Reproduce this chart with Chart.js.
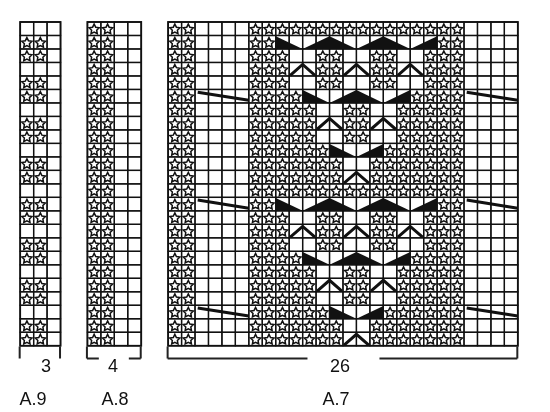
<!DOCTYPE html>
<html><head><meta charset="utf-8">
<script src="https://cdn.jsdelivr.net/npm/chart.js@4"></script>
<style>html,body{margin:0;padding:0;background:#fff}</style>
</head><body>
<canvas id="c" width="550" height="412"></canvas>
<script>
// ---- data ----
const chartNames = ["A.9", "A.8", "A.7"];
const widthLabels = ["3", "4", "26"];
const a9Rows = ["...","SS.","SS.","...","SS.","SS.","...","SS.","SS.","...","SS.","SS.","...","SS.","SS.","...","SS.","SS.","...","SS.","SS.","...","SS.","SS."];
const a8Rows = Array.from({length:24}, () => "SS..");
const a7Motif = [
 "SSSSSSSSSSSSSSSS","SS............SS","SSS..SS..SS..SSS","SSS..SS..SS..SSS","SSS..SS..SS..SSS",
 "SSSS........SSSS","SSSSS..SS..SSSSS","SSSSS..SS..SSSSS","SSSSS..SS..SSSSS","SSSSSS....SSSSSS",
 "SSSSSSS..SSSSSSS","SSSSSSS..SSSSSSS","SSSSSSSSSSSSSSSS",
 "SS............SS","SSS..SS..SS..SSS","SSS..SS..SS..SSS","SSS..SS..SS..SSS",
 "SSSS........SSSS","SSSSS..SS..SSSSS","SSSSS..SS..SSSSS","SSSSS..SS..SSSSS","SSSSSS....SSSSSS",
 "SSSSSSS..SSSSSSS","SSSSSSS..SSSSSSS"];
const a7Rows = a7Motif.map(m => "SS...." + m + "....");
// decrease wedges: [row, motifCol, type]  L=◣ A=▲ R=◢
const wedges = [
 [1,2,"L"],[1,4,"A"],[1,8,"A"],[1,12,"R"],
 [5,4,"L"],[5,6,"A"],[5,10,"R"],
 [9,6,"L"],[9,8,"R"],
 [13,2,"L"],[13,4,"A"],[13,8,"A"],[13,12,"R"],
 [17,4,"L"],[17,6,"A"],[17,10,"R"],
 [21,6,"L"],[21,8,"R"]];
// chevrons: [row, motifCol]
const chevrons = [[3,3],[3,7],[3,11],[7,5],[7,9],[11,7],[15,3],[15,7],[15,11],[19,5],[19,9],[23,7]];
// slanted cable lines: [row, startCol]
const slashes = [[5,2],[5,22],[13,2],[13,22],[21,2],[21,22]];

const charts = [
 {rows:a9Rows, x0:1.5, cols:3},
 {rows:a8Rows, x0:6.5, cols:4},
 {rows:a7Rows, x0:12.5, cols:26}];

const drawPlugin = {
 id:'knit',
 afterDraw(chart){
  const ctx = chart.ctx, xs = chart.scales.x, ys = chart.scales.y;
  const X = v => xs.getPixelForValue(v), Y = v => ys.getPixelForValue(v);
  ctx.save();
  function star(cx, cy, r){
   ctx.beginPath();
   for(let i=0;i<10;i++){
    const rr = i%2===0 ? r : r*0.5;
    const a = -Math.PI/2 + i*Math.PI/5;
    const px = cx + rr*Math.cos(a), py = cy + rr*Math.sin(a);
    i===0 ? ctx.moveTo(px,py) : ctx.lineTo(px,py);
   }
   ctx.closePath(); ctx.stroke();
  }
  charts.forEach(c => {
   c.rows.forEach((row, r) => {
    for(let k=0;k<c.cols;k++){
     const x1=X(c.x0+k), x2=X(c.x0+k+1), y1=Y(r), y2=Y(r+1);
     ctx.strokeStyle = '#111'; ctx.lineWidth = 1.3;
     ctx.strokeRect(x1,y1,x2-x1,y2-y1);
     if(row[k]==='S'){ ctx.lineWidth=1.5; star((x1+x2)/2,(y1+y2)/2+0.6,5.3); }
    }
   });
   ctx.lineWidth=1.8;
   ctx.strokeRect(X(c.x0),Y(0),X(c.x0+c.cols)-X(c.x0),Y(24)-Y(0));
  });
  const m0 = 12.5 + 6;
  ctx.fillStyle = '#111';
  wedges.forEach(([r,a,t]) => {
   const top=Y(r+0.05), bot=Y(r+1);
   ctx.beginPath();
   if(t==='L'){ ctx.moveTo(X(m0+a),top); ctx.lineTo(X(m0+a),bot); ctx.lineTo(X(m0+a+2),bot); }
   else if(t==='R'){ ctx.moveTo(X(m0+a),bot); ctx.lineTo(X(m0+a+2),top); ctx.lineTo(X(m0+a+2),bot); }
   else { ctx.moveTo(X(m0+a),bot); ctx.lineTo(X(m0+a+2),top); ctx.lineTo(X(m0+a+4),bot); }
   ctx.closePath(); ctx.fill();
  });
  ctx.strokeStyle='#111'; ctx.lineWidth=3; ctx.lineCap='butt';
  chevrons.forEach(([r,a]) => {
   ctx.beginPath();
   ctx.moveTo(X(m0+a+0.08),Y(r+0.95)); ctx.lineTo(X(m0+a+1),Y(r+0.15)); ctx.lineTo(X(m0+a+1.92),Y(r+0.95));
   ctx.stroke();
  });
  slashes.forEach(([r,a]) => {
   ctx.beginPath();
   ctx.moveTo(X(12.5+a+0.2),Y(r+0.2)); ctx.lineTo(X(12.5+a+4),Y(r+0.8)); ctx.stroke();
  });
  // brackets
  ctx.lineWidth=2; ctx.strokeStyle='#222';
  const by1=Y(24.05), by2=Y(24.95);
  charts.forEach((c,i) => {
   const l=X(c.x0)-0.5, rr=X(c.x0+c.cols)-0.5;
   ctx.beginPath(); ctx.moveTo(l,by1); ctx.lineTo(l,by2);
   ctx.moveTo(rr,by1); ctx.lineTo(rr,by2); ctx.stroke();
   if(i>0){
    const mid=(l+rr)/2, gap = i===1 ? 15 : 35;
    ctx.beginPath(); ctx.moveTo(l,by2); ctx.lineTo(mid-gap,by2);
    ctx.moveTo(mid+gap-(i===2?-2:0),by2); ctx.lineTo(rr,by2); ctx.stroke();
   }
  });
  ctx.fillStyle='#111'; ctx.font='18px "Liberation Sans", Arial, sans-serif';
  ctx.textAlign='center'; ctx.textBaseline='middle';
  const numX=[46,113,340], nameX=[33,115,336];
  charts.forEach((c,i) => {
   ctx.fillText(widthLabels[i], numX[i], Y(25.6));
   ctx.fillText(chartNames[i], nameX[i], 400);
  });
  ctx.restore();
 }
};

new Chart(document.getElementById('c'), {
 type:'scatter',
 data:{datasets:[{data:[], pointRadius:0}]},
 options:{
  responsive:false, animation:false, devicePixelRatio:1,
  layout:{padding:0},
  plugins:{legend:{display:false}, tooltip:{enabled:false}},
  scales:{
   x:{type:'linear', display:false, min:0, max:550/13.45},
   y:{type:'linear', display:false, reverse:true, min:-22/13.49, max:(412-22)/13.49}
  }
 },
 plugins:[drawPlugin]
});
</script>
</body></html>
